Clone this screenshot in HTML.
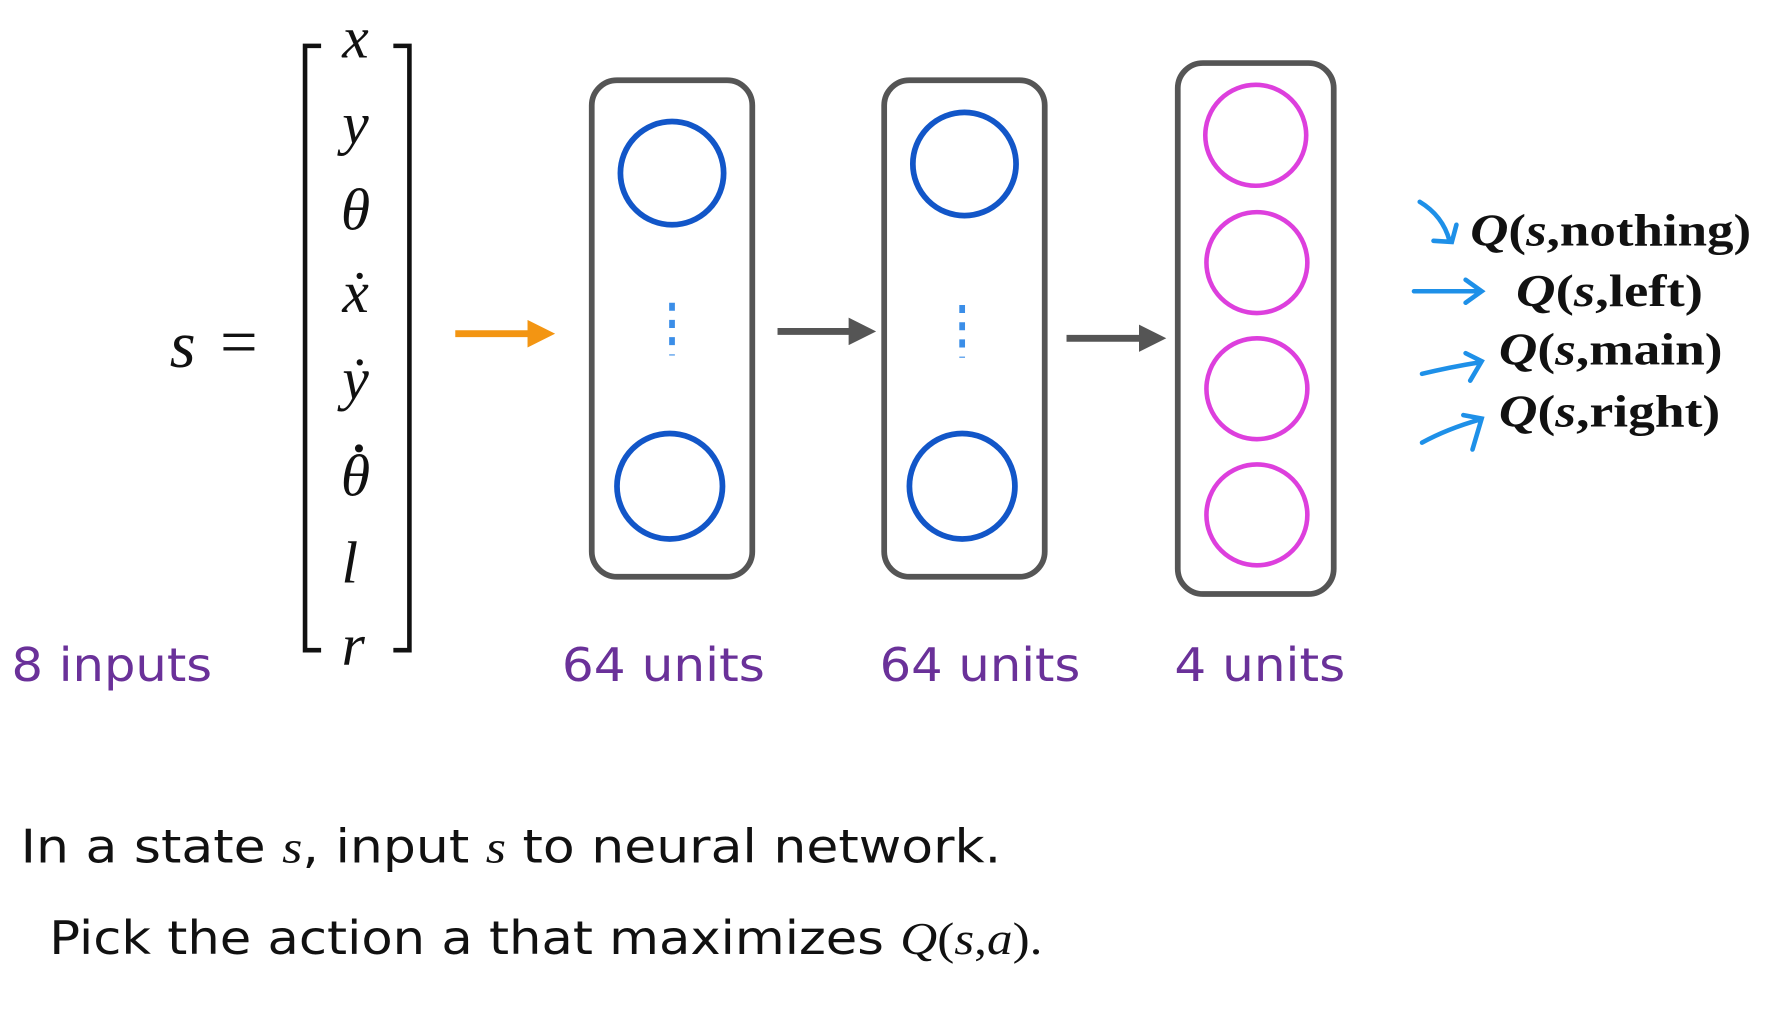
<!DOCTYPE html>
<html><head><meta charset="utf-8"><style>
html,body{margin:0;padding:0;background:#fff;}
svg{display:block}
.m{font-family:"Liberation Serif",serif;font-style:italic;fill:#111}
.p{font-family:"DejaVu Sans","Liberation Sans",sans-serif;fill:#6a3199;font-size:40px}
.t{font-family:"DejaVu Sans","Liberation Sans",sans-serif;fill:#111;font-size:40px}
.q{font-family:"Liberation Serif",serif;fill:#111;font-size:40px;font-weight:bold}
</style></head><body>
<svg width="1789" height="1024" viewBox="0 0 1560 893" preserveAspectRatio="none" xmlns="http://www.w3.org/2000/svg">
<defs>
<marker id="ao" markerWidth="4" markerHeight="4" refX="2" refY="2" orient="auto" markerUnits="strokeWidth"><path d="M0,0 L4,2 L0,4 z" fill="#f39512"/></marker>
<marker id="ag" markerWidth="4" markerHeight="4" refX="2" refY="2" orient="auto" markerUnits="strokeWidth"><path d="M0,0 L4,2 L0,4 z" fill="#555"/></marker>
</defs>
<text class="m" x="148" y="320" font-size="58">s</text>
<text x="192" y="318" font-size="58" font-family="Liberation Serif,serif" fill="#111">=</text>
<path d="M280,40 L266,40 L266,567 L280,567" fill="none" stroke="#111" stroke-width="4"/>
<path d="M343,40 L357,40 L357,567 L343,567" fill="none" stroke="#111" stroke-width="4"/>
<g class="m" font-size="52" text-anchor="middle">
<text x="310" y="50">x</text>
<text x="310" y="125">y</text>
<text x="310" y="200">θ</text>
<text x="310" y="272">ẋ</text>
<text x="310" y="348">ẏ</text>
<text x="310" y="432">θ</text>
<text x="305" y="508">l</text>
<text x="308" y="580">r</text>
</g>
<circle cx="313" cy="391" r="3.5" fill="#111"/>
<line x1="397" y1="291" x2="472" y2="291" stroke="#f39512" stroke-width="6" marker-end="url(#ao)"/>
<line x1="678" y1="289" x2="752" y2="289" stroke="#555" stroke-width="6" marker-end="url(#ag)"/>
<line x1="930" y1="295" x2="1005" y2="295" stroke="#555" stroke-width="6" marker-end="url(#ag)"/>
<rect x="516" y="70" width="140" height="433" rx="22" fill="none" stroke="#555" stroke-width="5"/>
<rect x="771" y="70" width="140" height="433" rx="22" fill="none" stroke="#555" stroke-width="5"/>
<rect x="1027" y="55" width="136" height="463" rx="22" fill="none" stroke="#555" stroke-width="5"/>
<g fill="none" stroke="#1256c8" stroke-width="5">
<circle cx="586" cy="151" r="45"/><circle cx="584" cy="424" r="46"/>
<circle cx="841" cy="143" r="45"/><circle cx="839" cy="424" r="46"/>
</g>
<line x1="586" y1="264" x2="586" y2="310" stroke="#3b8ee8" stroke-width="5" stroke-dasharray="7,8"/>
<line x1="839" y1="266" x2="839" y2="312" stroke="#3b8ee8" stroke-width="5" stroke-dasharray="7,8"/>
<g fill="none" stroke="#dd3fdd" stroke-width="4">
<circle cx="1095" cy="118" r="44"/><circle cx="1096" cy="229" r="44"/>
<circle cx="1096" cy="339" r="44"/><circle cx="1096" cy="449" r="44"/>
</g>
<text class="p" x="10" y="594" textLength="175" lengthAdjust="spacingAndGlyphs">8 inputs</text>
<text class="p" x="490" y="594" textLength="177" lengthAdjust="spacingAndGlyphs">64 units</text>
<text class="p" x="767" y="594" textLength="175" lengthAdjust="spacingAndGlyphs">64 units</text>
<text class="p" x="1024" y="594" textLength="149" lengthAdjust="spacingAndGlyphs">4 units</text>
<g stroke="#1e90e8" stroke-width="4" fill="none" stroke-linecap="round">
<path d="M1238,176 Q1258,188 1264,210 M1250,210 L1266,211 L1270,196"/>
<path d="M1233,254 L1290,254 M1278,244 L1292,254 L1278,264"/>
<path d="M1240,326 Q1265,320 1290,316 M1278,308 L1292,315 L1282,332"/>
<path d="M1240,386 Q1262,374 1290,366 M1276,362 L1292,365 L1284,392"/>
</g>
<text class="q" x="1282" y="214" textLength="245" lengthAdjust="spacingAndGlyphs"><tspan font-style="italic">Q</tspan>(<tspan font-style="italic">s</tspan>,nothing)</text>
<text class="q" x="1322" y="267" textLength="163" lengthAdjust="spacingAndGlyphs"><tspan font-style="italic">Q</tspan>(<tspan font-style="italic">s</tspan>,left)</text>
<text class="q" x="1307" y="318" textLength="195" lengthAdjust="spacingAndGlyphs"><tspan font-style="italic">Q</tspan>(<tspan font-style="italic">s</tspan>,main)</text>
<text class="q" x="1307" y="372" textLength="193" lengthAdjust="spacingAndGlyphs"><tspan font-style="italic">Q</tspan>(<tspan font-style="italic">s</tspan>,right)</text>
<text class="t" x="18" y="752" textLength="855" lengthAdjust="spacingAndGlyphs">In a state <tspan font-family="Liberation Serif,serif" font-style="italic">s</tspan>, input <tspan font-family="Liberation Serif,serif" font-style="italic">s</tspan>  to neural network.</text>
<text class="t" x="43" y="832" textLength="866" lengthAdjust="spacingAndGlyphs">Pick the action a that maximizes <tspan font-family="Liberation Serif,serif" font-style="italic">Q</tspan><tspan font-family="Liberation Serif,serif">(</tspan><tspan font-family="Liberation Serif,serif" font-style="italic">s</tspan><tspan font-family="Liberation Serif,serif">,</tspan><tspan font-family="Liberation Serif,serif" font-style="italic">a</tspan><tspan font-family="Liberation Serif,serif">).</tspan></text>
</svg>
</body></html>
